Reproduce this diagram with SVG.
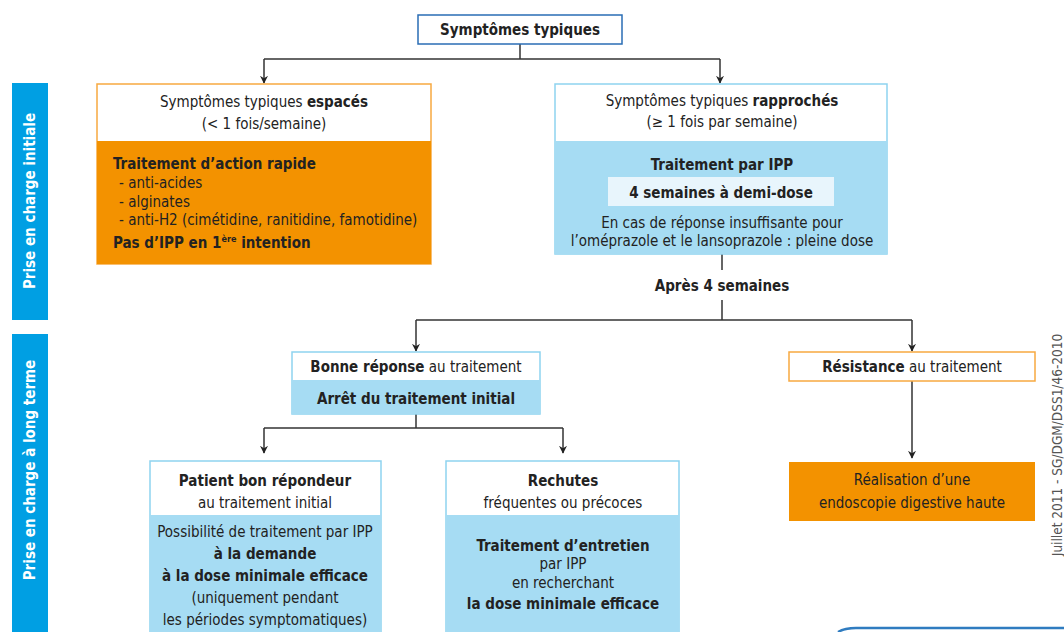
<svg xmlns="http://www.w3.org/2000/svg" width="1064" height="632" viewBox="0 0 1064 632">
<defs>
<marker id="arr" viewBox="0 0 10 10" refX="9" refY="5" markerWidth="8" markerHeight="8" markerUnits="userSpaceOnUse" orient="auto">
<path d="M0,0 L10,5 L0,10 L3,5 z" fill="#222"/>
</marker>
<style>
text{font-family:"Liberation Sans Narrow","DejaVu Sans Condensed","Liberation Sans",sans-serif;fill:#222;font-size:15px}
.b{font-weight:bold}
.c{text-anchor:middle}
.ln{fill:none;stroke:#333;stroke-width:1.5}
.or{fill:#F39200}
.orb{fill:#fff;stroke:#F7A940;stroke-width:1.5}
.bl{fill:#A6DCF3}
.blb{fill:#fff;stroke:#8ED3F0;stroke-width:1.5}
.bar{fill:#009FE3}
.bt{fill:#fff;font-weight:bold;font-size:15px;text-anchor:middle}
</style>
</defs>
<rect width="1064" height="632" fill="#fff"/>

<g id="bar1"><rect class="bar" x="12" y="83" width="36" height="237"/>
<text class="bt" transform="translate(35,201) rotate(-90)">Prise en charge initiale</text></g>
<g id="bar2"><rect class="bar" x="12" y="334" width="36" height="300"/>
<text class="bt" transform="translate(35,470) rotate(-90)">Prise en charge à long terme</text></g>

<g id="connectors">
<path class="ln" d="M520,44 V59"/>
<path class="ln" d="M264,59 H720"/>
<path class="ln" d="M264,59 V83" marker-end="url(#arr)"/>
<path class="ln" d="M720,59 V83" marker-end="url(#arr)"/>
<path class="ln" d="M722,254 V270"/>
<path class="ln" d="M722,300 V320"/>
<path class="ln" d="M416,320 H912"/>
<path class="ln" d="M416,320 V351" marker-end="url(#arr)"/>
<path class="ln" d="M912,320 V351" marker-end="url(#arr)"/>
<path class="ln" d="M416,414 V428"/>
<path class="ln" d="M264,428 H563"/>
<path class="ln" d="M264,428 V453" marker-end="url(#arr)"/>
<path class="ln" d="M563,428 V453" marker-end="url(#arr)"/>
<path class="ln" d="M912,381 V458" marker-end="url(#arr)"/>
</g>

<g id="top"><rect x="418" y="15" width="204" height="29" fill="#fff" stroke="#2A6DB5" stroke-width="1.5"/>
<text class="b c" x="520" y="35">Symptômes typiques</text></g>

<g id="espaces">
<rect class="orb" x="97" y="84" width="334" height="180"/>
<rect class="or" x="97" y="141" width="334" height="123"/>
<text class="c" x="264" y="107">Symptômes typiques <tspan class="b">espacés</tspan></text>
<text class="c" x="264" y="129">(&lt; 1 fois/semaine)</text>
<text class="b" x="113" y="169">Traitement d’action rapide</text>
<text x="119" y="188">- anti-acides</text>
<text x="119" y="207">- alginates</text>
<text x="119" y="225">- anti-H2 (cimétidine, ranitidine, famotidine)</text>
<text class="b" x="113" y="248">Pas d’IPP en 1<tspan font-size="9" dy="-6">ère</tspan><tspan dy="6"> intention</tspan></text>
</g>

<g id="rapproches">
<rect class="blb" x="555" y="84" width="332" height="170"/>
<rect class="bl" x="555" y="141" width="332" height="113"/>
<text class="c" x="722" y="106">Symptômes typiques <tspan class="b">rapprochés</tspan></text>
<text class="c" x="722" y="127">(≥ 1 fois par semaine)</text>
<text class="b c" x="722" y="170">Traitement par IPP</text>
<rect x="608" y="177" width="226" height="29" fill="#E8F5FC"/>
<text class="b c" x="721" y="198">4 semaines à demi-dose</text>
<text class="c" x="722" y="228">En cas de réponse insuffisante pour</text>
<text class="c" x="722" y="246">l’oméprazole et le lansoprazole : pleine dose</text>
</g>

<g id="apres"><text class="b c" x="722" y="291">Après 4 semaines</text></g>

<g id="bonne">
<rect class="blb" x="292" y="352" width="248" height="62"/>
<rect class="bl" x="292" y="380" width="248" height="34"/>
<text class="c" x="416" y="372"><tspan class="b">Bonne réponse</tspan> au traitement</text>
<text class="b c" x="416" y="404">Arrêt du traitement initial</text>
</g>

<g id="resistance">
<rect class="orb" x="789" y="352" width="246" height="29"/>
<text class="c" x="912" y="372"><tspan class="b">Résistance</tspan> au traitement</text>
</g>

<g id="endoscopie">
<rect class="or" x="789" y="462" width="246" height="59"/>
<text class="c" x="912" y="485">Réalisation d’une</text>
<text class="c" x="912" y="508">endoscopie digestive haute</text>
</g>

<g id="patient">
<rect class="blb" x="150" y="461" width="231" height="180"/>
<rect class="bl" x="150" y="515" width="231" height="125"/>
<text class="b c" x="265" y="486">Patient bon répondeur</text>
<text class="c" x="265" y="508">au traitement initial</text>
<text class="c" x="265" y="537">Possibilité de traitement par IPP</text>
<text class="b c" x="265" y="559">à la demande</text>
<text class="b c" x="265" y="581">à la dose minimale efficace</text>
<text class="c" x="265" y="603">(uniquement pendant</text>
<text class="c" x="265" y="625">les périodes symptomatiques)</text>
</g>

<g id="rechutes">
<rect class="blb" x="446" y="461" width="233" height="180"/>
<rect class="bl" x="446" y="515" width="233" height="125"/>
<text class="b c" x="563" y="486">Rechutes</text>
<text class="c" x="563" y="508">fréquentes ou précoces</text>
<text class="b c" x="563" y="551">Traitement d’entretien</text>
<text class="c" x="563" y="569">par IPP</text>
<text class="c" x="563" y="588">en recherchant</text>
<text class="b c" x="563" y="609">la dose minimale efficace</text>
</g>

<text x="0" y="0" style="fill:#555;font-size:13.5px" text-anchor="middle" transform="translate(1062,445) rotate(-90)">Juillet 2011 - SG/DGM/DSS1/46-2010</text>
<path d="M838,632 Q845,628 856,628 H1064" fill="none" stroke="#2F7CC0" stroke-width="2.5"/>
</svg>
